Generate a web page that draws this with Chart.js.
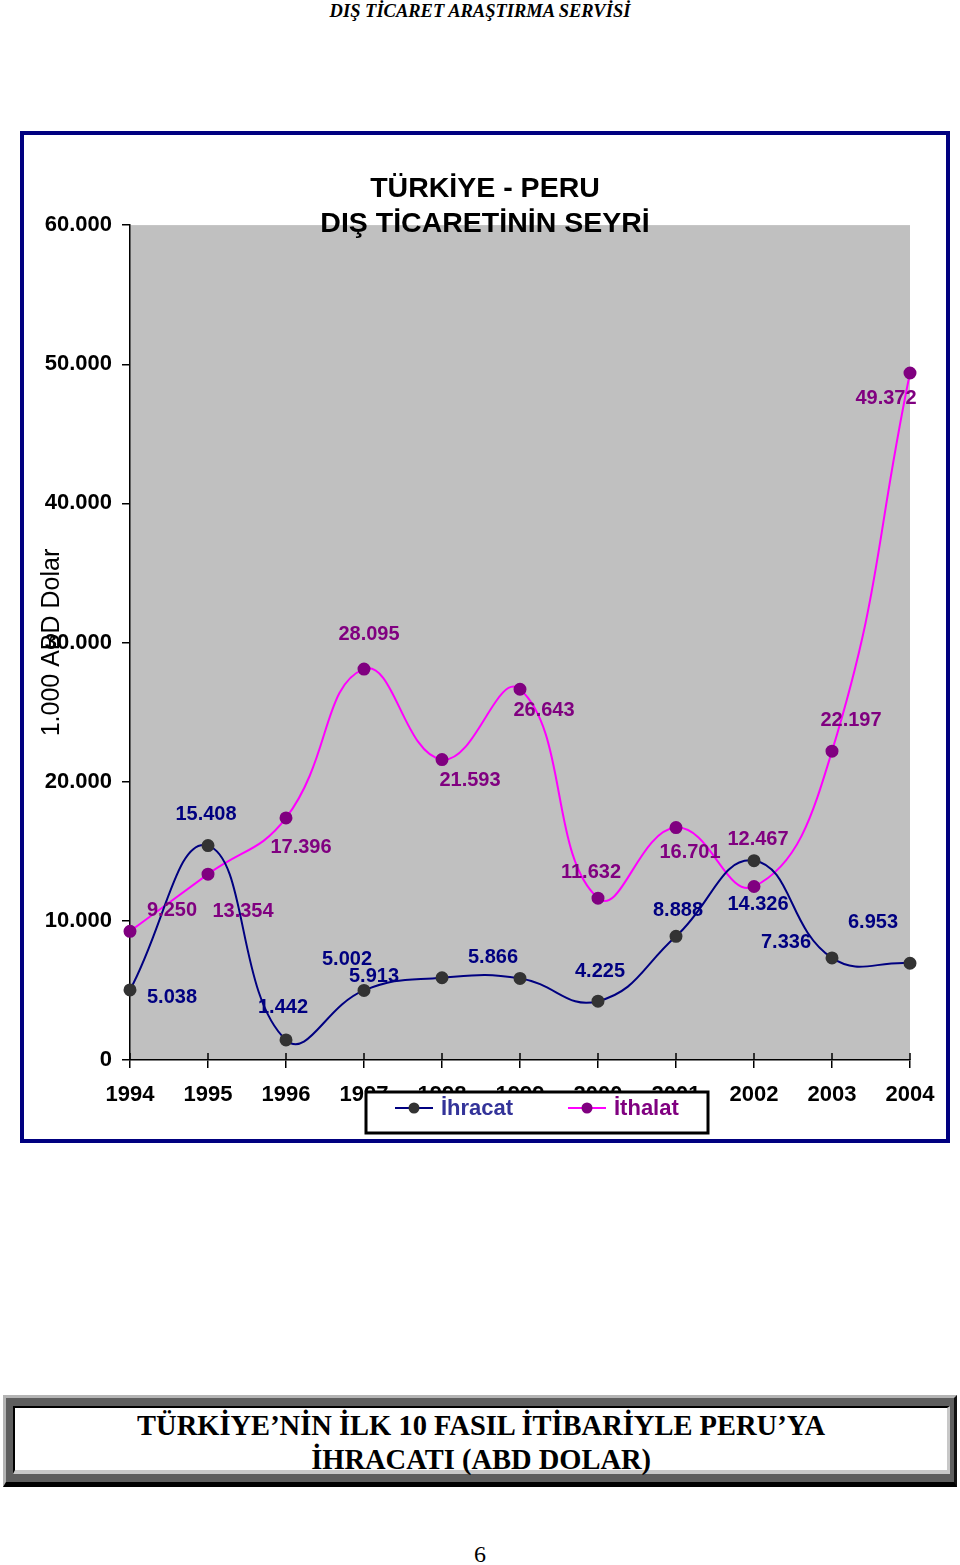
<!DOCTYPE html>
<html lang="tr">
<head>
    <meta charset="UTF-8">
    <title>Türkiye - Peru dış ticaret</title>
    <script src="https://cdn.jsdelivr.net/npm/chart.js"></script>
    <style>
        body { margin: 0; width: 960px; height: 1565px; position: relative; background: #fff; }
        #header { position: absolute; top: 1px; left: 0; width: 960px; text-align: center;
            font: italic bold 18.5px "Liberation Serif", serif; color: #000; }
        #wrap { position: absolute; left: 20px; top: 131px; width: 930px; height: 1012px; }
        #frame { position: absolute; left: 0; top: 0; width: 930px; height: 1012px; box-sizing: border-box;
            border: 4px solid #000080; pointer-events: none; }
        #box { position: absolute; left: 3px; top: 1395px; width: 954px; height: 92px; box-sizing: border-box;
            background: #5e5e5e; border-left: 3px solid #b4b4b4; border-top: 3px solid #b4b4b4;
            border-right: 3px solid #111; border-bottom: 5px solid #000; }
        #boxin { position: absolute; left: 7px; top: 8px; right: 4px; bottom: 8px; box-sizing: border-box; background: #fff;
            border-left: 2px solid #000; border-top: 2px solid #000; border-right: 3px solid #c8c8c8; border-bottom: 4px solid #c8c8c8;
            text-align: center; font: bold 30px/34px "Liberation Serif", serif; color: #000; }
        #boxin span { display: inline-block; transform: scaleX(0.95); white-space: nowrap; }
        #page { position: absolute; top: 1541px; left: 0; width: 960px; text-align: center;
            font: 24px "Liberation Serif", serif; }
    </style>
</head>
<body>
    <div id="header">DIŞ TİCARET ARAŞTIRMA SERVİSİ</div>
    <div id="wrap">
        <canvas id="chart"></canvas>
        <div id="frame"></div>
    </div>
    <div id="box"><div id="boxin"><span>TÜRKİYE’NİN İLK 10 FASIL İTİBARİYLE PERU’YA<br>İHRACATI (ABD DOLAR)</span></div></div>
    <div id="page">6</div>
    <script>
        // values in 1.000 ABD Dolar
        const years = ['1994', '1995', '1996', '1997', '1998', '1999', '2000', '2001', '2002', '2003', '2004'];
        const ihracat = [5038, 15408, 1442, 5002, 5913, 5866, 4225, 8888, 14326, 7336, 6953];
        const ithalat = [9250, 13354, 17396, 28095, 21593, 26643, 11632, 16701, 12467, 22197, 49372];
        const yTicks = [0, 10000, 20000, 30000, 40000, 50000, 60000];

        // where each value label sits relative to its point (like the excel sheet)
        const ihrOffsets = [[42, 8], [-2, -31], [-3, -32], [-17, -31], [-68, -1], [-27, -21], [2, -30], [2, -26], [4, 44], [-46, -15], [-37, -41]];
        const ithOffsets = [[42, -21], [35, 37], [15, 30], [5, -35], [28, 21], [24, 21], [-7, -26], [14, 25], [4, -47], [19, -31], [-24, 25]];

        const FONT = '"Liberation Sans", Arial, sans-serif';

        function fmt(v) {
            if (v === 0) return '0';
            return (v / 1000).toFixed(3);
        }

        const extras = {
            id: 'extras',
            beforeDraw(chart) {
                const a = chart.chartArea;
                const c = chart.ctx;
                c.save();
                c.fillStyle = '#c0c0c0';
                c.fillRect(a.left, a.top, a.right - a.left, a.bottom - a.top);
                c.restore();
            },
            afterDraw(chart) {
                const c = chart.ctx;
                const a = chart.chartArea;
                const x = chart.scales.x;
                c.save();

                // small ticks going up into the plot too
                c.strokeStyle = '#000';
                c.lineWidth = 1.5;
                years.forEach((y, i) => {
                    const px = x.getPixelForValue(i);
                    c.beginPath();
                    c.moveTo(px, a.bottom - 7);
                    c.lineTo(px, a.bottom);
                    c.stroke();
                });

                // value labels
                c.font = 'bold 20px ' + FONT;
                c.textAlign = 'center';
                c.textBaseline = 'middle';
                const sets = [[0, ihrOffsets, '#000080'], [1, ithOffsets, '#800080']];
                sets.forEach(([di, offs, col]) => {
                    const meta = chart.getDatasetMeta(di);
                    c.fillStyle = col;
                    meta.data.forEach((pt, i) => {
                        const v = chart.data.datasets[di].data[i];
                        c.fillText(fmt(v), pt.x + offs[i][0], pt.y + offs[i][1]);
                    });
                });

                // y axis title
                c.save();
                c.translate(32, (a.top + a.bottom) / 2);
                c.rotate(-Math.PI / 2);
                c.font = '25px ' + FONT;
                c.fillStyle = '#000';
                c.fillText('1.000 ABD Dolar', 0, 0);
                c.restore();

                // legend box (sits over the x labels like in the original)
                c.fillStyle = '#fff';
                c.fillRect(346, 961, 342, 41);
                c.strokeStyle = '#000';
                c.lineWidth = 3;
                c.strokeRect(346, 961, 342, 41);
                const items = [
                    { x: 375, line: '#000080', dot: '#333333', text: 'İhracat', tc: '#333399' },
                    { x: 548, line: '#ff00ff', dot: '#800080', text: 'İthalat', tc: '#800080' }
                ];
                items.forEach(it => {
                    c.strokeStyle = it.line;
                    c.lineWidth = 2;
                    c.beginPath();
                    c.moveTo(it.x, 977);
                    c.lineTo(it.x + 38, 977);
                    c.stroke();
                    c.fillStyle = it.dot;
                    c.beginPath();
                    c.arc(it.x + 19, 977, 5.5, 0, Math.PI * 2);
                    c.fill();
                    c.fillStyle = it.tc;
                    c.font = 'bold 22px ' + FONT;
                    c.textAlign = 'left';
                    c.fillText(it.text, it.x + 46, 978);
                });
                c.restore();
            }
        };

        const ctx = document.getElementById('chart');
        new Chart(ctx, {
            type: 'line',
            data: {
                labels: years,
                datasets: [
                    {
                        label: 'İhracat',
                        data: ihracat,
                        borderColor: '#000080',
                        borderWidth: 2,
                        pointBackgroundColor: '#333333',
                        pointBorderColor: '#333333',
                        pointRadius: 5.5,
                        tension: 0.45
                    },
                    {
                        label: 'İthalat',
                        data: ithalat,
                        borderColor: '#ff00ff',
                        borderWidth: 2,
                        pointBackgroundColor: '#800080',
                        pointBorderColor: '#800080',
                        pointRadius: 5.5,
                        tension: 0.45
                    }
                ]
            },
            options: {
                responsive: true,
                maintainAspectRatio: false,
                animation: false,
                devicePixelRatio: 1,
                layout: { padding: 0 },
                plugins: {
                    legend: { display: false },
                    tooltip: { enabled: false },
                    title: {
                        display: true,
                        text: ['TÜRKİYE - PERU', 'DIŞ TİCARETİNİN SEYRİ'],
                        color: '#000',
                        font: { family: FONT, size: 28.5, weight: 'bold', lineHeight: 1.23 },
                        padding: { top: 41, bottom: -17 }
                    }
                },
                scales: {
                    x: {
                        offset: false,
                        grid: { drawOnChartArea: false, offset: false, tickLength: 8, color: '#000', lineWidth: 1.5 },
                        border: { color: '#000', width: 1.5 },
                        ticks: {
                            color: '#000',
                            padding: 14,
                            maxRotation: 0,
                            autoSkip: false,
                            font: { family: FONT, size: 22, weight: 'bold' }
                        },
                        afterFit(s) { s.height = 83; }
                    },
                    y: {
                        min: 0,
                        max: 60000,
                        afterBuildTicks(s) { s.ticks = yTicks.map(v => ({ value: v })); },
                        grid: { drawOnChartArea: false, tickLength: 8, color: '#000', lineWidth: 1.5 },
                        border: { color: '#000', width: 1.5 },
                        ticks: {
                            color: '#000',
                            padding: 10,
                            callback: v => fmt(v),
                            font: { family: FONT, size: 22, weight: 'bold' }
                        },
                        afterFit(s) { s.width = 110; }
                    },
                    // empty right margin so the title centres on the whole frame
                    yRight: {
                        position: 'right',
                        ticks: { display: false },
                        grid: { display: false },
                        border: { display: false },
                        afterFit(s) { s.width = 40; }
                    }
                }
            },
            plugins: [extras]
        });
    </script>
</body>
</html>
